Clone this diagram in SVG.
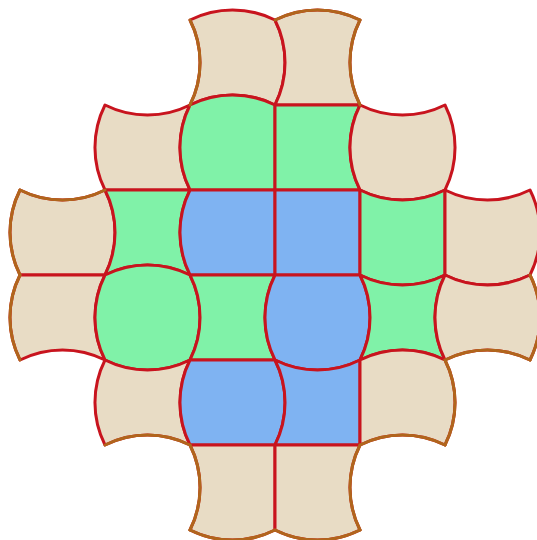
<svg xmlns="http://www.w3.org/2000/svg" width="537" height="540" viewBox="0 0 537 540">
<style>
.c path{stroke:#c8141e;stroke-width:3;stroke-linejoin:round}
.tan{fill:#e8dcc5}
.grn{fill:#80f2a8}
.blu{fill:#7fb3f2}
#boundary path{fill:none;stroke:#b0661c;stroke-width:3;stroke-linecap:round}
</style>
<rect width="537" height="540" fill="#fff"/>
<g id="tiles">
<g id="t20" class="c tan"><path d="M190 20A95 95 0 0 1 275 20A95 95 0 0 1 275 105A95 95 0 0 0 190 105A95 95 0 0 0 190 20Z"/></g>
<g id="t30" class="c tan"><path d="M275 20A95 95 0 0 1 360 20A95 95 0 0 0 360 105L275 105A95 95 0 0 0 275 20Z"/></g>
<g id="t11" class="c tan"><path d="M105 105A95 95 0 0 0 190 105A95 95 0 0 0 190 190L105 190A95 95 0 0 1 105 105Z"/></g>
<g id="t21" class="c grn"><path d="M190 105A95 95 0 0 1 275 105L275 190L190 190A95 95 0 0 1 190 105Z"/></g>
<g id="t31" class="c grn"><path d="M275 105L360 105A95 95 0 0 0 360 190L275 190Z"/></g>
<g id="t41" class="c tan"><path d="M360 105A95 95 0 0 0 445 105A95 95 0 0 1 445 190A95 95 0 0 1 360 190A95 95 0 0 1 360 105Z"/></g>
<g id="t02" class="c tan"><path d="M20 190A95 95 0 0 0 105 190A95 95 0 0 1 105 275L20 275A95 95 0 0 1 20 190Z"/></g>
<g id="t12" class="c grn"><path d="M105 190L190 190A95 95 0 0 0 190 275A95 95 0 0 0 105 275A95 95 0 0 0 105 190Z"/></g>
<g id="t22" class="c blu"><path d="M190 190L275 190L275 275L190 275A95 95 0 0 1 190 190Z"/></g>
<g id="t32" class="c blu"><path d="M275 190L360 190L360 275L275 275Z"/></g>
<g id="t42" class="c grn"><path d="M360 190A95 95 0 0 0 445 190L445 275A95 95 0 0 1 360 275Z"/></g>
<g id="t52" class="c tan"><path d="M445 190A95 95 0 0 0 530 190A95 95 0 0 1 530 275A95 95 0 0 1 445 275Z"/></g>
<g id="t03" class="c tan"><path d="M20 275L105 275A95 95 0 0 0 105 360A95 95 0 0 0 20 360A95 95 0 0 1 20 275Z"/></g>
<g id="t13" class="c grn"><path d="M105 275A95 95 0 0 1 190 275A95 95 0 0 1 190 360A95 95 0 0 1 105 360A95 95 0 0 1 105 275Z"/></g>
<g id="t23" class="c grn"><path d="M190 275L275 275A95 95 0 0 0 275 360L190 360A95 95 0 0 0 190 275Z"/></g>
<g id="t33" class="c blu"><path d="M275 275L360 275A95 95 0 0 1 360 360A95 95 0 0 1 275 360A95 95 0 0 1 275 275Z"/></g>
<g id="t43" class="c grn"><path d="M360 275A95 95 0 0 0 445 275A95 95 0 0 0 445 360A95 95 0 0 0 360 360A95 95 0 0 0 360 275Z"/></g>
<g id="t53" class="c tan"><path d="M445 275A95 95 0 0 0 530 275A95 95 0 0 1 530 360A95 95 0 0 0 445 360A95 95 0 0 1 445 275Z"/></g>
<g id="t14" class="c tan"><path d="M105 360A95 95 0 0 0 190 360A95 95 0 0 0 190 445A95 95 0 0 0 105 445A95 95 0 0 1 105 360Z"/></g>
<g id="t24" class="c blu"><path d="M190 360L275 360A95 95 0 0 1 275 445L190 445A95 95 0 0 1 190 360Z"/></g>
<g id="t34" class="c blu"><path d="M275 360A95 95 0 0 0 360 360L360 445L275 445A95 95 0 0 0 275 360Z"/></g>
<g id="t44" class="c tan"><path d="M360 360A95 95 0 0 1 445 360A95 95 0 0 1 445 445A95 95 0 0 0 360 445Z"/></g>
<g id="t25" class="c tan"><path d="M190 445L275 445L275 530A95 95 0 0 1 190 530A95 95 0 0 0 190 445Z"/></g>
<g id="t35" class="c tan"><path d="M275 445L360 445A95 95 0 0 0 360 530A95 95 0 0 1 275 530Z"/></g>
</g>
<g id="boundary">
<path d="M275 20A95 95 0 0 1 360 20"/>
<path d="M190 20A95 95 0 0 1 190 105"/>
<path d="M360 20A95 95 0 0 0 360 105"/>
<path d="M20 190A95 95 0 0 0 105 190"/>
<path d="M20 190A95 95 0 0 0 20 275"/>
<path d="M20 275A95 95 0 0 0 20 360"/>
<path d="M530 275A95 95 0 0 1 530 360"/>
<path d="M445 360A95 95 0 0 1 530 360"/>
<path d="M445 360A95 95 0 0 1 445 445"/>
<path d="M360 445A95 95 0 0 1 445 445"/>
<path d="M105 445A95 95 0 0 1 190 445"/>
<path d="M190 445A95 95 0 0 1 190 530"/>
<path d="M190 530A95 95 0 0 0 275 530"/>
<path d="M360 445A95 95 0 0 0 360 530"/>
<path d="M275 530A95 95 0 0 0 360 530"/>
</g>
</svg>
